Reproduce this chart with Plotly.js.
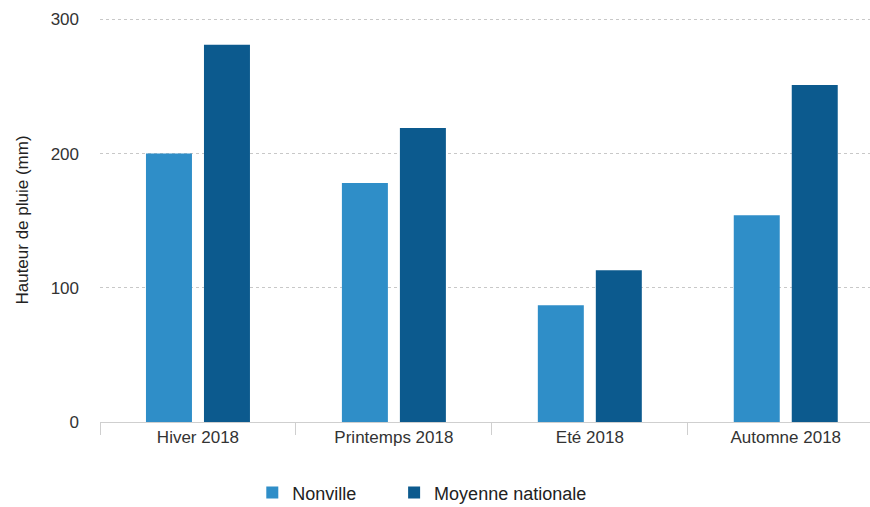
<!DOCTYPE html>
<html>
<head>
<meta charset="utf-8">
<script src="https://cdn.plot.ly/plotly-3.0.1.min.js"></script>
<style>html,body{margin:0;padding:0;background:#fff;}#chart{width:870px;height:507px;}</style>
</head>
<body>
<div id="chart"></div>
<script>
const categories = ["Hiver 2018", "Printemps 2018", "Eté 2018", "Automne 2018"];
const nonville = [200, 178, 87, 154];
const moyenne = [281, 219, 113, 251];
const seriesNames = ["Nonville", "Moyenne nationale"];
const yTicks = [0, 100, 200, 300];

const traces = [
  {type: "bar", name: seriesNames[0], x: categories, y: nonville, marker: {color: "#2f8ec8"}, legend: "legend"},
  {type: "bar", name: seriesNames[1], x: categories, y: moyenne, marker: {color: "#0c5a8e"}, legend: "legend2"}
];

const legendBase = {orientation: "h", xref: "container", yref: "container", xanchor: "left",
                    y: 0.028, yanchor: "middle", font: {size: 18, color: "#222"}, itemwidth: 30};

const layout = {
  width: 870, height: 507,
  margin: {l: 100, r: 0, t: 18, b: 85},
  paper_bgcolor: "#fff", plot_bgcolor: "#fff",
  font: {family: "Liberation Sans, Arial, sans-serif", size: 17, color: "#333"},
  barmode: "group", bargap: 0.408, bargroupgap: 0.207,
  showlegend: true,
  legend: Object.assign({}, legendBase, {x: 0.29}),
  legend2: Object.assign({}, legendBase, {x: 0.453}),
  xaxis: {
    range: [-0.5, 3.43], automargin: false, showgrid: false, showline: true, linecolor: "#cfcfcf", linewidth: 1,
    ticks: "outside", tickson: "boundaries", ticklen: 12, tickcolor: "#cfcfcf",
    tickfont: {size: 17, color: "#333"}, fixedrange: true
  },
  yaxis: {
    range: [0, 301], automargin: false, tickvals: yTicks, showline: false, zeroline: false,
    showgrid: true, gridcolor: "#c8c8c8", griddash: "dot", gridwidth: 1,
    ticklabelstandoff: 20, tickfont: {size: 17, color: "#333"},
    title: {text: "Hauteur de pluie (mm)", font: {size: 17, color: "#222"}, standoff: 17}
  }
};
Plotly.newPlot("chart", traces, layout, {staticPlot: true});
</script>
</body>
</html>
